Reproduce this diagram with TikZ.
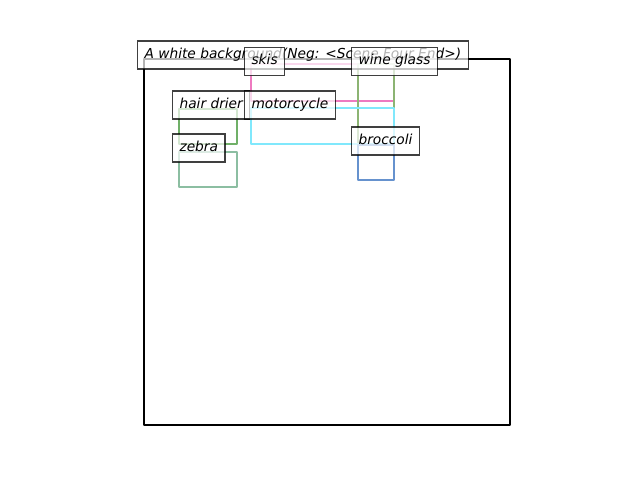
\documentclass[tikz,border=0pt]{standalone}
\usepackage{fontspec}
\setmainfont{DejaVu Sans}
\definecolor{skiscol}{RGB}{238,122,192}
\definecolor{winecol}{RGB}{140,180,115}
\definecolor{motocol}{RGB}{128,232,252}
\definecolor{broccol}{RGB}{102,146,206}
\definecolor{driercol}{RGB}{112,176,104}
\definecolor{zebracol}{RGB}{140,190,162}
\begin{document}
\begin{tikzpicture}[x=0.72pt,y=-0.72pt,
	lbl/.style={anchor=base west,inner sep=5.04pt,text height=7.2pt,text depth=2.88pt,draw=black,draw opacity=0.75,fill=white,fill opacity=0.7,text opacity=1,line width=0.8pt,font=\fontsize{9.9pt}{12pt}\selectfont\itshape},
	bbox/.style={line width=1.8pt,line join=round}]
		\useasboundingbox (0,0) rectangle (640,480);
		\draw[bbox,black] (144,59) rectangle (510,425);
		
		\foreach \c/\xa/\ya/\xb/\yb in {skiscol/251/64/394/101,winecol/358/64/394/144,motocol/251/108/394/144,broccol/358/145/394/180,driercol/179/109/237/144,zebracol/179/152/237/187}{
			\draw[bbox,\c] (\xa,\ya) rectangle (\xb,\yb);
		}
		
		\node[lbl] (title) at (137,58) {A white background(Neg: <Scene Four End>)};
		\node[lbl] (skis) at (244,64.5) {skis};
		\node[lbl] (wine) at (351,64.5) {wine glass};
		\node[lbl] (drier) at (172,108) {hair drier};
		\node[lbl] (moto) at (244,108) {motorcycle};
		\node[lbl] (zebra) at (172,151) {zebra};
		\node[lbl] (brocc) at (351,144) {broccoli};
	\end{tikzpicture}
\end{document}
